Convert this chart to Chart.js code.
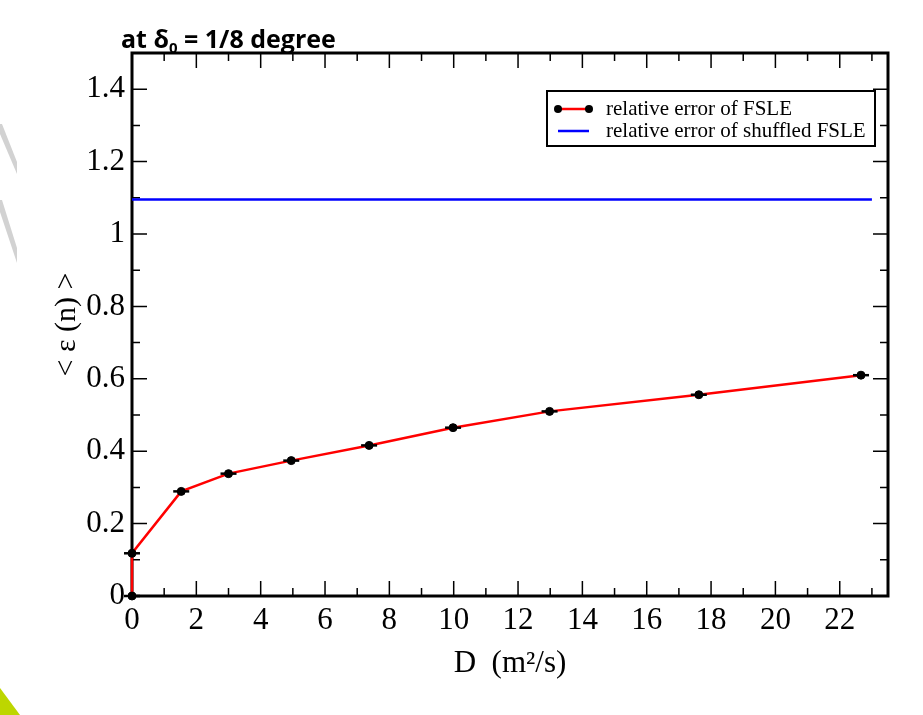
<!DOCTYPE html>
<html>
<head>
<meta charset="utf-8">
<script src="https://cdn.jsdelivr.net/npm/chart.js@4.4.1/dist/chart.umd.min.js"></script>
<style>
  html, body { margin: 0; padding: 0; background: #fff; }
  canvas { display: block; }
</style>
</head>
<body>
<canvas id="chart" width="923" height="715"></canvas>
<script>
// diffusivity D (m^2/s) and mean relative error of the FSLE
const diffusivity = [0, 0, 1.53, 3.0, 4.95, 7.37, 9.98, 12.98, 17.62, 22.66];
const fsleError = [0, 0.118, 0.289, 0.338, 0.374, 0.416, 0.465, 0.510, 0.556, 0.610];

// shuffled FSLE error, flat over the whole range
const shuffledD = [0, 23];
const shuffledError = [1.095, 1.095];

const xTicks = [0, 2, 4, 6, 8, 10, 12, 14, 16, 18, 20, 22];
const yTicks = [0, 0.2, 0.4, 0.6, 0.8, 1, 1.2, 1.4];
const yTickLabels = ["0", "0.2", "0.4", "0.6", "0.8", "1", "1.2", "1.4"];

const seriesLabels = ["relative error of FSLE", "relative error of shuffled FSLE"];

const SERIF = "'Liberation Serif', 'Times New Roman', serif";
const SANS = "'Open Sans', Lato, sans-serif";

const fslePoints = diffusivity.map((d, i) => ({ x: d, y: fsleError[i] }));
const shuffledPoints = shuffledD.map((d, i) => ({ x: d, y: shuffledError[i] }));

// slide decorations behind the plot
const slideDecor = {
  id: "slideDecor",
  beforeDraw(chart) {
    const ctx = chart.ctx;
    ctx.save();
    ctx.fillStyle = "#d2d2d2";
    ctx.beginPath();
    ctx.moveTo(0, 124); ctx.lineTo(2, 124); ctx.lineTo(17, 162); ctx.lineTo(17, 174); ctx.lineTo(0, 134);
    ctx.closePath(); ctx.fill();
    ctx.beginPath();
    ctx.moveTo(0, 200); ctx.lineTo(2, 200); ctx.lineTo(17, 248); ctx.lineTo(17, 263); ctx.lineTo(0, 212);
    ctx.closePath(); ctx.fill();
    ctx.fillStyle = "#bdd600";
    ctx.beginPath();
    ctx.moveTo(0, 688); ctx.lineTo(20, 715); ctx.lineTo(0, 715);
    ctx.closePath(); ctx.fill();
    ctx.restore();
  }
};

// box frame with inward ticks on all four sides
const frameTicks = {
  id: "frameTicks",
  beforeDatasetsDraw(chart) {
    const { ctx, chartArea: a, scales: { x, y } } = chart;
    ctx.save();
    ctx.strokeStyle = "#000";
    ctx.lineWidth = 1.5;
    ctx.beginPath();
    for (let v = 0; v <= 23; v++) {
      const px = x.getPixelForValue(v);
      const len = v % 2 === 0 ? 15 : 8;
      ctx.moveTo(px, a.bottom); ctx.lineTo(px, a.bottom - len);
      ctx.moveTo(px, a.top); ctx.lineTo(px, a.top + len);
    }
    for (let k = 0; k <= 15; k++) {
      const py = y.getPixelForValue(k / 10);
      const len = k % 2 === 0 ? 15 : 8;
      ctx.moveTo(a.left, py); ctx.lineTo(a.left + len, py);
      ctx.moveTo(a.right, py); ctx.lineTo(a.right - len, py);
    }
    ctx.stroke();
    ctx.lineWidth = 3;
    ctx.strokeRect(a.left, a.top, a.right - a.left, a.bottom - a.top);
    ctx.restore();
  }
};

// heading with the subscripted delta
const heading = {
  id: "heading",
  afterDraw(chart) {
    const ctx = chart.ctx;
    const x0 = 121, base = 48;
    ctx.save();
    ctx.fillStyle = "#000";
    ctx.textBaseline = "alphabetic";
    ctx.font = "bold 25px " + SANS;
    ctx.fillText("at δ", x0, base);
    let x1 = x0 + ctx.measureText("at δ").width;
    ctx.font = "bold 15px " + SANS;
    ctx.fillText("0", x1, base + 5);
    x1 += ctx.measureText("0").width;
    ctx.font = "bold 25px " + SANS;
    ctx.fillText(" = 1/8 degree", x1, base);
    ctx.restore();
  }
};

// boxed legend in the upper right corner
const boxLegend = {
  id: "boxLegend",
  afterDraw(chart) {
    const { ctx, chartArea: a } = chart;
    const right = a.right - 13, top = a.top + 38, w = 328, h = 55;
    const left = right - w;
    ctx.save();
    ctx.fillStyle = "#fff";
    ctx.fillRect(left, top, w, h);
    ctx.strokeStyle = "#000";
    ctx.lineWidth = 2;
    ctx.strokeRect(left, top, w, h);

    const row1 = top + 18, row2 = top + 40;
    const sx0 = left + 11, sx1 = left + 42;
    ctx.strokeStyle = "#ff0000";
    ctx.lineWidth = 2.5;
    ctx.beginPath(); ctx.moveTo(sx0, row1); ctx.lineTo(sx1, row1); ctx.stroke();
    ctx.fillStyle = "#000";
    [sx0, sx1].forEach(px => { ctx.beginPath(); ctx.arc(px, row1, 4, 0, Math.PI * 2); ctx.fill(); });
    ctx.strokeStyle = "#0000ff";
    ctx.beginPath(); ctx.moveTo(sx0, row2); ctx.lineTo(sx1, row2); ctx.stroke();

    ctx.fillStyle = "#000";
    ctx.font = "21px " + SERIF;
    ctx.textBaseline = "middle";
    ctx.fillText(seriesLabels[0], left + 59, row1);
    ctx.fillText(seriesLabels[1], left + 59, row2);
    ctx.restore();
  }
};

const ctx = document.querySelector("#chart").getContext("2d");

new Chart(ctx, {
  type: "scatter",
  data: {
    datasets: [
      {
        label: "error bars",
        data: fslePoints,
        pointStyle: "line",
        pointRadius: 8,
        pointBorderWidth: 2.5,
        borderColor: "#000",
        backgroundColor: "#000",
        showLine: false,
        clip: false
      },
      {
        label: seriesLabels[0],
        data: fslePoints,
        showLine: true,
        borderColor: "#ff0000",
        borderWidth: 2.5,
        pointRadius: 4,
        pointBackgroundColor: "#000",
        pointBorderColor: "#000",
        pointBorderWidth: 1,
        clip: false
      },
      {
        label: seriesLabels[1],
        data: shuffledPoints,
        showLine: true,
        borderColor: "#0000ff",
        borderWidth: 2.5,
        pointRadius: 0
      }
    ]
  },
  options: {
    responsive: false,
    animation: false,
    layout: { padding: { top: 53, right: 35, left: 0, bottom: 0 } },
    plugins: {
      legend: { display: false },
      tooltip: { enabled: false }
    },
    scales: {
      x: {
        type: "linear",
        min: 0,
        max: 23.5,
        grid: { display: false, drawTicks: false },
        border: { display: false },
        afterBuildTicks: s => { s.ticks = xTicks.map(v => ({ value: v })); },
        afterFit: s => { s.height = 119; },
        ticks: {
          font: { family: SERIF, size: 31 },
          color: "#000",
          padding: 6,
          maxRotation: 0,
          autoSkip: false,
          callback: v => String(v)
        },
        title: {
          display: true,
          text: "D  (m²/s)",
          font: { family: SERIF, size: 31 },
          color: "#000",
          padding: { top: 0, bottom: 33 }
        }
      },
      y: {
        type: "linear",
        min: 0,
        max: 1.5,
        grid: { display: false, drawTicks: false },
        border: { display: false },
        afterBuildTicks: s => { s.ticks = yTicks.map(v => ({ value: v })); },
        afterFit: s => { s.width = 132; },
        ticks: {
          font: { family: SERIF, size: 31 },
          color: "#000",
          padding: 7,
          autoSkip: false,
          callback: v => yTickLabels[yTicks.indexOf(v)]
        },
        title: {
          display: true,
          text: "< ε (n) >",
          font: { family: SERIF, size: 30 },
          color: "#000",
          padding: { top: 49, bottom: 0 }
        }
      }
    }
  },
  plugins: [slideDecor, frameTicks, heading, boxLegend]
});
</script>
</body>
</html>
